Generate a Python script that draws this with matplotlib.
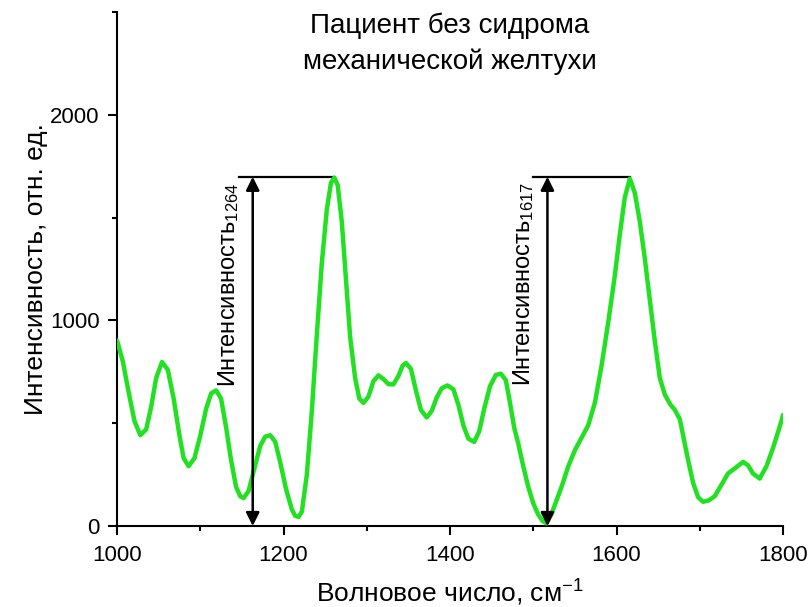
import matplotlib.pyplot as plt
from matplotlib.ticker import MultipleLocator

plt.rcParams['font.family'] = ['Liberation Sans', 'DejaVu Sans']
plt.rcParams['mathtext.fontset'] = 'custom'
plt.rcParams['mathtext.rm'] = 'Liberation Sans'
plt.rcParams['mathtext.it'] = 'Liberation Sans'

# спектр (волновое число, интенсивность)
wavenumber = [1000, 1007, 1014, 1021, 1028, 1035, 1041, 1047, 1054, 1061, 1068, 1075,
              1080, 1086, 1093, 1100, 1107, 1113, 1119, 1125, 1131, 1137, 1143, 1148,
              1152, 1158, 1165, 1172, 1178, 1184, 1190, 1196, 1203, 1210, 1214, 1218,
              1222, 1228, 1234, 1240, 1246, 1252, 1257, 1261, 1265, 1270, 1275, 1280,
              1286, 1291, 1296, 1302, 1308, 1314, 1320, 1326, 1332, 1338, 1343, 1347,
              1353, 1359, 1365, 1372, 1378, 1384, 1390, 1397, 1404, 1410, 1416, 1422,
              1429, 1435, 1441, 1448, 1455, 1461, 1467, 1472, 1477, 1482, 1488, 1494,
              1500, 1506, 1511, 1516, 1522, 1528, 1534, 1542, 1550, 1558, 1566, 1574,
              1582, 1590, 1598, 1604, 1610, 1616, 1622, 1628, 1634, 1640, 1646, 1652,
              1658, 1664, 1670, 1676, 1681, 1686, 1692, 1698, 1704, 1711, 1718, 1726,
              1734, 1742, 1752, 1758, 1764, 1772, 1780, 1788, 1795, 1800]
intensity = [903, 800, 650, 510, 442, 470, 580, 720, 798, 760, 620, 440,
             330, 291, 330, 440, 570, 645, 660, 620, 480, 320, 190, 145,
             136, 170, 280, 390, 435, 442, 410, 310, 180, 80, 50, 44,
             70, 250, 560, 930, 1280, 1540, 1670, 1695, 1660, 1480, 1200, 920,
             720, 620, 599, 630, 705, 733, 715, 690, 689, 730, 780, 793,
             765, 660, 565, 528, 560, 625, 670, 684, 665, 590, 490, 425,
             409, 460, 570, 680, 735, 741, 710, 600, 480, 400, 290, 190,
             110, 55, 25, 13, 60, 125, 191, 290, 369, 430, 490, 600,
             780, 990, 1220, 1420, 1600, 1690, 1620, 1480, 1300, 1100, 900, 720,
             640, 595, 565, 520, 420, 320, 210, 140, 118, 125, 145, 200,
             256, 280, 312, 295, 255, 231, 290, 380, 470, 540]

# стрелки высоты пиков
arrow_x = [1163, 1517]
arrow_top = 1699
line_start = [1146, 1500]
line_end = [1261, 1616]
peak_labels = ['Интенсивность$_{1264}$', 'Интенсивность$_{1617}$']
label_x = [1134, 1488]

fig = plt.figure(figsize=(8.11, 6.07), dpi=100)
ax = fig.add_axes([0.1443, 0.1334, 0.8212, 0.8466])

ax.plot(wavenumber, intensity, color='#22e022', lw=3.2, solid_joinstyle='round',
        solid_capstyle='round', zorder=3)

for i in range(2):
    ax.plot([line_start[i], line_end[i]], [arrow_top, arrow_top], color='black', lw=1.6)
    ax.annotate('', xy=(arrow_x[i], 0), xytext=(arrow_x[i], arrow_top),
                arrowprops=dict(arrowstyle='<|-|>', color='black', lw=1.8,
                                mutation_scale=20, shrinkA=0, shrinkB=0))
    ax.text(label_x[i], 1175, peak_labels[i], rotation=90, fontsize=17,
            ha='center', va='center')

ax.set_xlim(1000, 1800)
ax.set_ylim(0, 2500)
ax.xaxis.set_major_locator(MultipleLocator(200))
ax.xaxis.set_minor_locator(MultipleLocator(100))
ax.yaxis.set_major_locator(MultipleLocator(1000))
ax.yaxis.set_minor_locator(MultipleLocator(500))

for s in ['top', 'right']:
    ax.spines[s].set_visible(False)
for s in ['left', 'bottom']:
    ax.spines[s].set_linewidth(1.5)
ax.tick_params(which='major', length=6.5, width=1.5, labelsize=16, direction='out')
ax.tick_params(which='minor', length=3.5, width=1.5, direction='out')
ax.tick_params(axis='x', pad=7)
ax.tick_params(axis='y', pad=6)

ax.set_xlabel('Волновое число, см$^{-1}$', fontsize=19)
ax.set_ylabel('Интенсивность, отн. ед.', fontsize=19)
ax.xaxis.set_label_coords(0.5, -0.1)
ax.yaxis.set_label_coords(-0.104, 0.5)

ax.text(1400, 2345, 'Пациент без сидрома\nмеханической желтухи', fontsize=20,
        ha='center', va='center', linespacing=1.45)

fig.savefig('out.png', dpi=100)
